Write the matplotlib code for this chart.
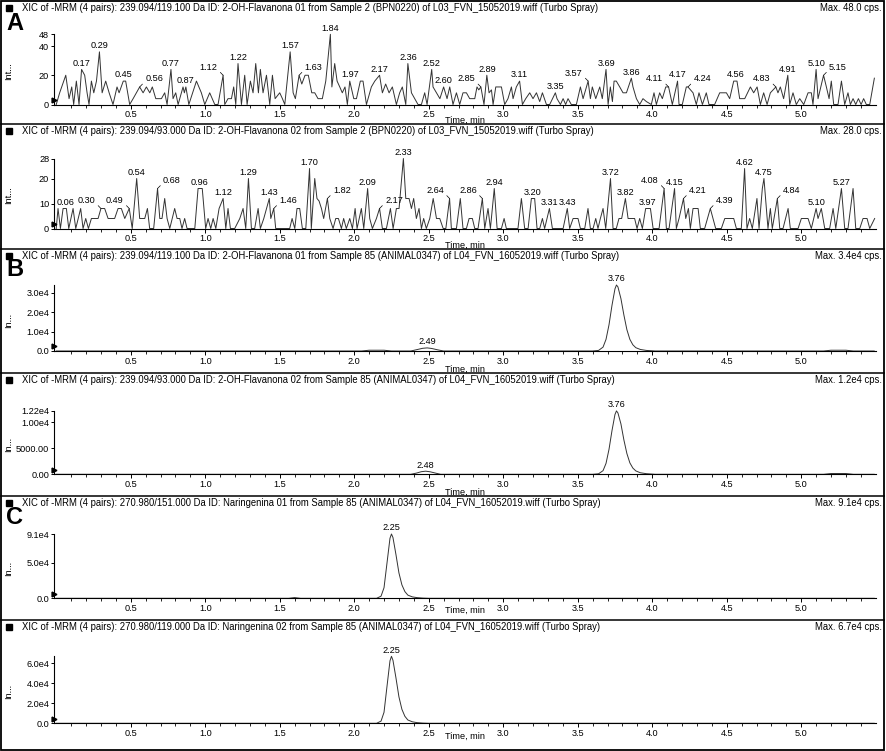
import numpy as np
import matplotlib.pyplot as plt
from matplotlib.patches import Rectangle
from matplotlib.ticker import FixedLocator

plt.rcParams['font.family'] = ['Liberation Sans', 'DejaVu Sans']

# ---------------- data ----------------
# panel A, transition 1 (time min, intensity cps)
a1_trace = [
    (0.000, 0), (0.023, 8), (0.064, 20), (0.086, 4), (0.104, 12), (0.117, 0), (0.135, 16),
    (0.153, 0), (0.170, 24), (0.191, 20), (0.207, 8), (0.220, 0), (0.236, 16), (0.252, 8),
    (0.270, 16), (0.290, 36), (0.308, 8), (0.332, 16), (0.355, 8), (0.381, 0), (0.408, 12),
    (0.422, 8), (0.450, 16), (0.466, 16), (0.493, 0), (0.516, 4), (0.560, 12), (0.583, 8),
    (0.605, 12), (0.628, 8), (0.645, 12), (0.668, 4), (0.706, 4), (0.728, 8), (0.744, 0),
    (0.770, 24), (0.784, 4), (0.802, 8), (0.818, 0), (0.851, 12), (0.860, 8), (0.870, 12),
    (0.890, 0), (0.941, 16), (0.974, 8), (0.997, 0), (1.030, 8), (1.064, 0), (1.086, 0),
    (1.120, 20), (1.131, 0), (1.153, 4), (1.176, 4), (1.191, 12), (1.205, 0), (1.220, 28),
    (1.243, 0), (1.265, 20), (1.281, 0), (1.303, 16), (1.321, 8), (1.339, 28), (1.357, 8),
    (1.370, 24), (1.388, 8), (1.411, 20), (1.433, 0), (1.451, 20), (1.469, 4), (1.500, 8),
    (1.518, 4), (1.534, 0), (1.570, 36), (1.590, 8), (1.605, 4), (1.630, 20), (1.648, 14),
    (1.670, 20), (1.692, 20), (1.715, 8), (1.735, 8), (1.757, 4), (1.786, 4), (1.809, 16),
    (1.840, 48), (1.850, 12), (1.869, 28), (1.885, 16), (1.903, 12), (1.920, 8), (1.938, 12),
    (1.954, 0), (1.970, 16), (1.997, 4), (2.015, 4), (2.041, 16), (2.059, 16), (2.082, 0),
    (2.115, 12), (2.138, 16), (2.170, 20), (2.189, 8), (2.211, 14), (2.234, 8), (2.256, 12),
    (2.283, 0), (2.305, 8), (2.323, 12), (2.346, 0), (2.360, 28), (2.384, 8), (2.406, 4),
    (2.428, 0), (2.451, 0), (2.473, 8), (2.489, 0), (2.520, 24), (2.529, 12), (2.552, 8),
    (2.575, 4), (2.600, 12), (2.623, 4), (2.641, 12), (2.663, 0), (2.686, 8), (2.708, 0),
    (2.730, 8), (2.753, 8), (2.775, 4), (2.809, 4), (2.824, 12), (2.836, 10), (2.850, 12),
    (2.871, 0), (2.890, 20), (2.905, 8), (2.921, 10), (2.932, 0), (2.950, 12), (2.988, 12),
    (3.010, 0), (3.032, 4), (3.055, 12), (3.066, 4), (3.088, 12), (3.110, 16), (3.129, 0),
    (3.151, 4), (3.178, 8), (3.200, 4), (3.223, 8), (3.245, 2), (3.263, 8), (3.290, 0),
    (3.312, 0), (3.350, 8), (3.361, 4), (3.384, 0), (3.402, 4), (3.419, 0), (3.435, 4),
    (3.457, 0), (3.491, 0), (3.518, 12), (3.536, 4), (3.570, 16), (3.585, 4), (3.598, 12),
    (3.621, 4), (3.648, 12), (3.665, 4), (3.690, 24), (3.704, 0), (3.719, 12), (3.733, 2),
    (3.744, 16), (3.759, 16), (3.782, 12), (3.804, 8), (3.827, 8), (3.860, 18), (3.871, 12),
    (3.894, 4), (3.916, 0), (3.938, 4), (3.961, 2), (3.994, 0), (4.012, 8), (4.028, 0),
    (4.050, 8), (4.068, 4), (4.091, 12), (4.110, 12), (4.135, 0), (4.170, 16), (4.180, 0),
    (4.202, 0), (4.229, 12), (4.240, 12), (4.274, 8), (4.296, 0), (4.314, 8), (4.337, 0),
    (4.363, 8), (4.381, 0), (4.419, 0), (4.453, 8), (4.498, 8), (4.520, 4), (4.547, 16),
    (4.569, 16), (4.587, 4), (4.621, 4), (4.659, 12), (4.681, 8), (4.704, 12), (4.726, 0),
    (4.748, 8), (4.771, 0), (4.793, 8), (4.830, 12), (4.844, 8), (4.860, 12), (4.882, 4),
    (4.910, 20), (4.923, 0), (4.945, 8), (4.967, 0), (4.990, 4), (5.017, 0), (5.046, 8),
    (5.068, 8), (5.079, 0), (5.100, 24), (5.113, 4), (5.150, 20), (5.169, 12), (5.187, 4),
    (5.202, 16), (5.218, 0), (5.247, 0), (5.270, 16), (5.292, 0), (5.314, 8), (5.330, 0),
    (5.348, 4), (5.366, 0), (5.384, 4), (5.402, 0), (5.419, 4), (5.437, 0), (5.460, 0),
    (5.491, 18),
]
a1_peaks = [0.17, 0.29, 0.45, 0.56, 0.77, 0.87, 1.12, 1.22, 1.57, 1.63, 1.84, 1.97, 2.17,
            2.36, 2.52, 2.60, 2.85, 2.89, 3.11, 3.35, 3.57, 3.69, 3.86, 4.11, 4.17, 4.24,
            4.56, 4.83, 4.91, 5.10, 5.15]
a1_leaders = {0.56: 'r', 1.12: 'l', 1.63: 'r', 2.85: 'l', 3.57: 'l', 4.11: 'l',
              4.24: 'r', 4.83: 'l', 5.15: 'r'}

# panel A, transition 2
a2_trace = [
    (0.000, 0), (0.012, 8), (0.028, 0), (0.046, 8), (0.068, 8), (0.084, 0), (0.113, 8),
    (0.131, 0), (0.164, 8), (0.180, 0), (0.198, 4), (0.216, 0), (0.236, 4), (0.281, 4),
    (0.300, 8), (0.325, 8), (0.348, 4), (0.392, 4), (0.415, 8), (0.437, 8), (0.460, 4),
    (0.490, 8), (0.510, 0), (0.540, 20), (0.560, 4), (0.594, 4), (0.612, 8), (0.627, 0),
    (0.654, 0), (0.680, 16), (0.695, 4), (0.710, 4), (0.728, 12), (0.744, 4), (0.762, 0),
    (0.795, 8), (0.811, 4), (0.829, 4), (0.844, 0), (0.862, 4), (0.878, 0), (0.930, 0),
    (0.952, 16), (0.980, 16), (1.003, 0), (1.019, 4), (1.037, 0), (1.053, 4), (1.071, 0),
    (1.093, 8), (1.120, 12), (1.138, 0), (1.153, 8), (1.169, 0), (1.198, 0), (1.232, 4),
    (1.254, 8), (1.272, 0), (1.290, 20), (1.310, 0), (1.332, 0), (1.355, 8), (1.370, 0),
    (1.393, 4), (1.430, 12), (1.440, 4), (1.460, 8), (1.473, 0), (1.500, 0), (1.567, 0),
    (1.583, 4), (1.601, 0), (1.616, 8), (1.634, 8), (1.652, 0), (1.675, 0), (1.700, 24),
    (1.712, 0), (1.735, 20), (1.750, 12), (1.764, 11), (1.780, 8), (1.795, 4), (1.820, 12),
    (1.836, 4), (1.858, 0), (1.876, 4), (1.894, 4), (1.914, 0), (1.929, 4), (1.947, 0),
    (1.970, 4), (1.988, 0), (2.006, 8), (2.019, 0), (2.048, 8), (2.064, 0), (2.090, 16),
    (2.104, 4), (2.122, 0), (2.149, 4), (2.170, 8), (2.189, 0), (2.216, 0), (2.243, 8),
    (2.261, 0), (2.283, 8), (2.301, 8), (2.330, 28), (2.346, 12), (2.368, 12), (2.384, 8),
    (2.399, 12), (2.417, 4), (2.435, 8), (2.451, 0), (2.466, 4), (2.484, 0), (2.507, 4),
    (2.530, 12), (2.552, 4), (2.574, 4), (2.597, 0), (2.615, 0), (2.640, 12), (2.652, 0),
    (2.686, 0), (2.712, 12), (2.730, 0), (2.753, 0), (2.771, 4), (2.793, 4), (2.809, 0),
    (2.831, 0), (2.860, 12), (2.876, 0), (2.898, 8), (2.914, 0), (2.940, 16), (2.959, 0),
    (2.988, 0), (3.006, 4), (3.021, 0), (3.099, 0), (3.122, 12), (3.144, 0), (3.167, 0),
    (3.189, 12), (3.211, 12), (3.227, 0), (3.245, 0), (3.263, 4), (3.278, 0), (3.310, 8),
    (3.330, 0), (3.402, 0), (3.430, 8), (3.446, 0), (3.469, 4), (3.502, 4), (3.518, 0),
    (3.547, 0), (3.569, 8), (3.585, 0), (3.603, 0), (3.621, 4), (3.636, 0), (3.652, 4),
    (3.670, 8), (3.688, 0), (3.720, 20), (3.737, 0), (3.759, 0), (3.777, 4), (3.795, 4),
    (3.820, 12), (3.838, 4), (3.882, 4), (3.898, 0), (3.916, 4), (3.934, 0), (3.956, 8),
    (3.988, 8), (4.006, 0), (4.046, 0), (4.080, 16), (4.095, 0), (4.113, 0), (4.150, 16),
    (4.162, 0), (4.180, 4), (4.210, 12), (4.225, 4), (4.243, 8), (4.256, 0), (4.274, 8),
    (4.308, 8), (4.323, 0), (4.352, 0), (4.390, 8), (4.408, 4), (4.426, 0), (4.464, 0),
    (4.487, 4), (4.547, 4), (4.565, 0), (4.598, 0), (4.620, 24), (4.636, 0), (4.654, 4),
    (4.672, 0), (4.703, 12), (4.717, 0), (4.739, 16), (4.750, 20), (4.777, 0), (4.793, 8),
    (4.806, 0), (4.840, 12), (4.856, 0), (4.878, 0), (4.912, 8), (4.927, 0), (4.979, 0),
    (5.001, 4), (5.046, 4), (5.068, 0), (5.100, 8), (5.113, 4), (5.135, 8), (5.158, 0),
    (5.191, 0), (5.214, 8), (5.232, 0), (5.270, 16), (5.292, 0), (5.314, 0), (5.348, 16),
    (5.366, 0), (5.393, 0), (5.415, 4), (5.442, 4), (5.460, 0), (5.493, 4),
]
a2_peaks = [0.06, 0.30, 0.49, 0.54, 0.68, 0.96, 1.12, 1.29, 1.43, 1.46, 1.70, 1.82, 2.09,
            2.17, 2.33, 2.64, 2.86, 2.94, 3.20, 3.31, 3.43, 3.72, 3.82, 3.97, 4.08, 4.15,
            4.21, 4.39, 4.62, 4.75, 4.84, 5.10, 5.27]
a2_leaders = {0.30: 'l', 0.49: 'l', 0.68: 'r', 1.46: 'r', 1.82: 'r', 2.17: 'r',
              2.64: 'l', 2.86: 'l', 4.08: 'l', 4.21: 'r', 4.39: 'r', 4.84: 'r'}

# panel B (2-OH-flavanone in animal sample)
b1_time = [0.00, 2.05, 2.10, 2.20, 2.25, 2.38, 2.42, 2.46, 2.49, 2.52, 2.56, 2.60, 3.60,
           3.64, 3.67, 3.69, 3.71, 3.73, 3.75, 3.76, 3.77, 3.79, 3.81, 3.83, 3.85, 3.87,
           3.89, 3.92, 3.96, 4.02, 5.15, 5.20, 5.30, 5.35, 5.49]
b1_int = [0, 0, 400, 400, 0, 0, 700, 1400, 1600, 1300, 600, 0, 0,
          300, 2000, 6000, 13500, 23500, 32000, 34000, 33000, 27000, 18500, 11000, 6000, 3200,
          1700, 800, 300, 0, 0, 400, 400, 0, 0]
b1_peaks = [2.49, 3.76]

b2_time = [0.00, 2.38, 2.42, 2.45, 2.48, 2.51, 2.55, 2.58, 3.60, 3.64, 3.67, 3.69, 3.71,
           3.73, 3.75, 3.76, 3.77, 3.79, 3.81, 3.83, 3.85, 3.87, 3.89, 3.92, 3.96, 4.02,
           5.15, 5.20, 5.30, 5.35, 5.49]
b2_int = [0, 0, 250, 500, 600, 480, 200, 0, 0, 100, 700, 2100, 4800,
          8400, 11500, 12200, 11800, 9700, 6600, 4000, 2200, 1200, 650, 300, 120, 0,
          0, 150, 150, 0, 0]
b2_peaks = [2.48, 3.76]

# panel C (naringenin in animal sample)
c1_time = [0.00, 1.56, 1.60, 1.64, 2.15, 2.18, 2.20, 2.22, 2.24, 2.25, 2.26, 2.28, 2.30,
           2.32, 2.34, 2.36, 2.39, 2.42, 2.46, 2.50, 5.49]
c1_int = [0, 0, 1000, 0, 0, 3000, 15000, 50000, 85000, 91000, 86000, 62000, 36000,
          19000, 9500, 4500, 2000, 1000, 300, 0, 0]
c1_peaks = [2.25]

c2_time = [0.00, 2.15, 2.18, 2.20, 2.22, 2.24, 2.25, 2.26, 2.28, 2.30, 2.32, 2.34, 2.36,
           2.39, 2.42, 2.46, 2.50, 5.49]
c2_int = [0, 0, 2200, 11000, 37000, 62500, 67000, 63000, 45500, 26500, 14000, 7000, 3300,
          1500, 700, 200, 0, 0]
c2_peaks = [2.25]

titles = [
    "XIC of -MRM (4 pairs): 239.094/119.100 Da ID: 2-OH-Flavanona 01 from Sample 2 (BPN0220) of L03_FVN_15052019.wiff (Turbo Spray)",
    "XIC of -MRM (4 pairs): 239.094/93.000 Da ID: 2-OH-Flavanona 02 from Sample 2 (BPN0220) of L03_FVN_15052019.wiff (Turbo Spray)",
    "XIC of -MRM (4 pairs): 239.094/119.100 Da ID: 2-OH-Flavanona 01 from Sample 85 (ANIMAL0347) of L04_FVN_16052019.wiff (Turbo Spray)",
    "XIC of -MRM (4 pairs): 239.094/93.000 Da ID: 2-OH-Flavanona 02 from Sample 85 (ANIMAL0347) of L04_FVN_16052019.wiff (Turbo Spray)",
    "XIC of -MRM (4 pairs): 270.980/151.000 Da ID: Naringenina 01 from Sample 85 (ANIMAL0347) of L04_FVN_16052019.wiff (Turbo Spray)",
    "XIC of -MRM (4 pairs): 270.980/119.000 Da ID: Naringenina 02 from Sample 85 (ANIMAL0347) of L04_FVN_16052019.wiff (Turbo Spray)",
]
max_labels = ["Max. 48.0 cps.", "Max. 28.0 cps.", "Max. 3.4e4 cps.",
              "Max. 1.2e4 cps.", "Max. 9.1e4 cps.", "Max. 6.7e4 cps."]
y_max = [48, 28, 34000, 12200, 91000, 67000]
y_ticks = [[0, 20, 40, 48], [0, 10, 20, 28], [0, 10000, 20000, 30000],
           [0, 5000, 10000, 12200], [0, 50000, 91000], [0, 20000, 40000, 60000]]
y_ticklabels = [["0", "20", "40", "48"], ["0", "10", "20", "28"],
                ["0.0", "1.0e4", "2.0e4", "3.0e4"], ["0.00", "5000.00", "1.00e4", "1.22e4"],
                ["0.0", "5.0e4", "9.1e4"], ["0.0", "2.0e4", "4.0e4", "6.0e4"]]
y_names = ["Int...", "Int...", "In...", "In...", "In...", "In..."]
x_ticks = [0.5, 1.0, 1.5, 2.0, 2.5, 3.0, 3.5, 4.0, 4.5, 5.0]

a1_t, a1_v = np.array(a1_trace).T
a2_t, a2_v = np.array(a2_trace).T
series = [(a1_t, a1_v, a1_peaks, a1_leaders), (a2_t, a2_v, a2_peaks, a2_leaders),
          (b1_time, b1_int, b1_peaks, {}), (b2_time, b2_int, b2_peaks, {}),
          (c1_time, c1_int, c1_peaks, {}), (c2_time, c2_int, c2_peaks, {})]

# ---------------- layout (pixels) ----------------
W, H = 886, 751
box_edges = [1, 124, 249, 373, 496, 620, 750]
axis_px = [(104.5, 34.3), (228.5, 158.5), (351, 285), (474.3, 410.9), (598.3, 534), (723.3, 656.3)]
xlabel_pad = [-2.0, -1.6, -0.3, -0.6, -5.2, -4.2]
ax_left, ax_right = 54, 876
x_lo, x_hi = -0.015, 5.502
letters = {"A": 24, "B": 270, "C": 517}
FS = 6.6

fig = plt.figure(figsize=(W / 100, H / 100), dpi=100)

bg = fig.add_axes([0, 0, 1, 1], zorder=0)
bg.set_xlim(0, W)
bg.set_ylim(H, 0)
bg.axis("off")
bg.add_patch(Rectangle((1, 1), W - 3, H - 2.5, fill=False, lw=1.3, ec="black"))
for y in box_edges[1:-1]:
    bg.plot([1, W - 2], [y, y], color="black", lw=1.1)

for letter, y in letters.items():
    bg.text(6, y, letter, fontsize=17, fontweight="bold", va="center", ha="left")

for i, (t, v, peaks, leaders) in enumerate(series):
    top = box_edges[i]
    y0, ytop = axis_px[i]

    # header line
    bg.add_patch(Rectangle((6.5, top + 4), 5.5, 5.5, color="black"))
    bg.text(22, top + 7, titles[i], fontsize=6.85, va="center", ha="left")
    bg.text(882, top + 7, max_labels[i], fontsize=6.85, va="center", ha="right")
    bg.text(9, (y0 + ytop) / 2 + 2, y_names[i], fontsize=FS, rotation=90,
            va="center", ha="center")

    ax = fig.add_axes([ax_left / W, 1 - y0 / H, (ax_right - ax_left) / W, (y0 - ytop) / H],
                      zorder=1)
    ax.patch.set_alpha(0)
    ax.plot(t, v, color="#333333", lw=0.7, clip_on=False)
    ax.set_xlim(x_lo, x_hi)
    ax.set_ylim(0, y_max[i])
    for s in ("top", "right"):
        ax.spines[s].set_visible(False)
    for s in ("left", "bottom"):
        ax.spines[s].set_linewidth(0.8)

    ax.xaxis.set_major_locator(FixedLocator(x_ticks))
    ax.set_xticklabels([f"{x:.1f}" for x in x_ticks])
    ax.xaxis.set_minor_locator(FixedLocator(np.round(np.arange(0.1, 5.45, 0.1), 2)))
    ax.tick_params(axis="x", which="major", length=3, width=0.7, pad=1, labelsize=FS)
    ax.tick_params(axis="x", which="minor", length=2, width=0.6)
    ax.set_yticks(y_ticks[i], y_ticklabels[i])
    ax.tick_params(axis="y", length=2.5, width=0.7, pad=1, labelsize=FS)
    ax.set_xlabel("Time, min", fontsize=FS, labelpad=xlabel_pad[i])

    # small start marker at the origin
    ax.plot([0.0], [0.07], marker=">", ms=3.5, color="black",
            transform=ax.transAxes, clip_on=False)

    # retention time labels
    for p in peaks:
        h = np.interp(p, t, v)
        side = leaders.get(p, "c")
        if side == "c":
            ax.annotate(f"{p:.2f}", (p, h), xytext=(0, 1.2), textcoords="offset points",
                        ha="center", va="bottom", fontsize=FS, annotation_clip=False)
        else:
            dx = -4 if side == "l" else 4
            ax.annotate(f"{p:.2f}", (p, h), xytext=(dx, 2.5), textcoords="offset points",
                        ha="right" if side == "l" else "left", va="bottom", fontsize=FS,
                        annotation_clip=False,
                        arrowprops=dict(arrowstyle="-", lw=0.5, color="black",
                                        shrinkA=0, shrinkB=0,
                                        relpos=(1, 0.25) if side == "l" else (0, 0.25)))

fig.savefig("out.png", dpi=100)
